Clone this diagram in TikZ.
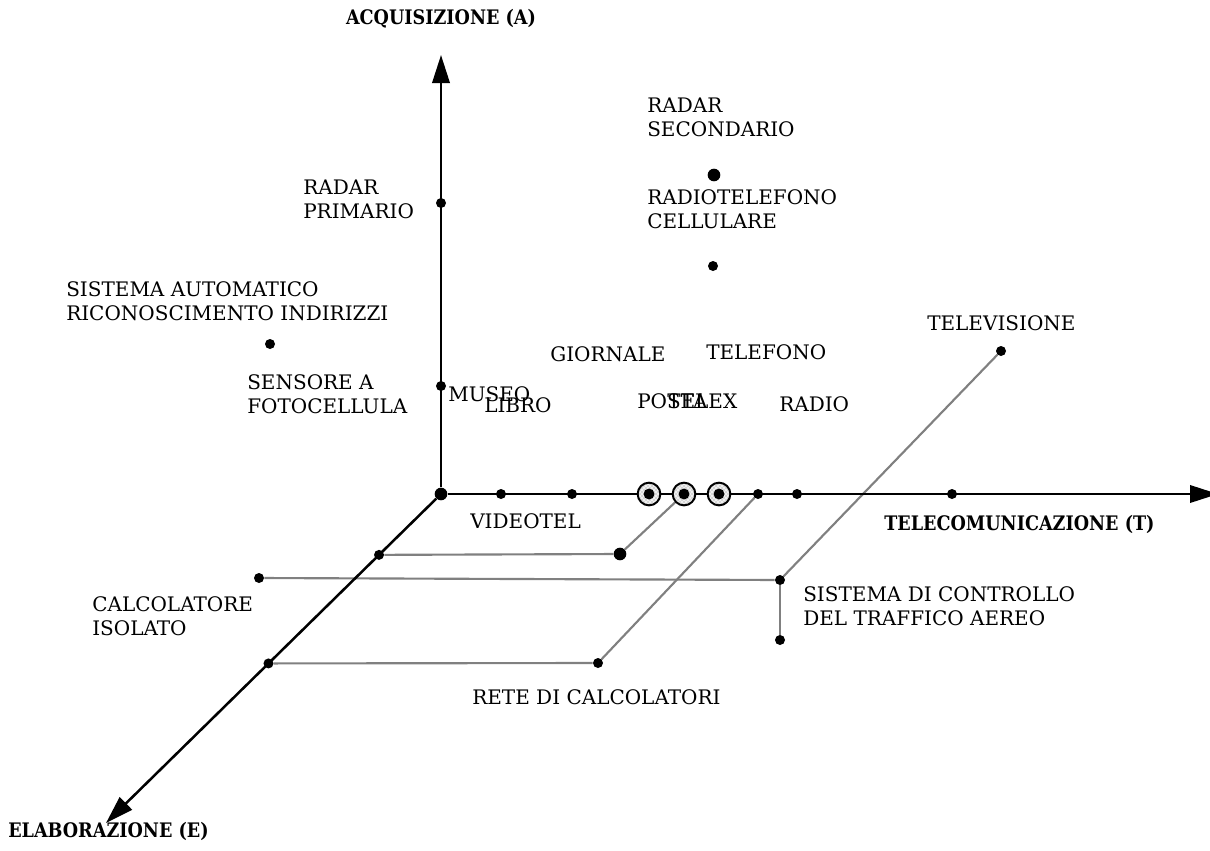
\documentclass[tikz,border=0pt]{standalone}
\usepackage{fontspec}
\setmainfont{DejaVu Serif}
\newfontfamily\axfont[FakeStretch=0.88]{DejaVu Serif Bold}
\usetikzlibrary{arrows.meta,patterns,calc}
\pgfdeclarelayer{background}
\pgfsetlayers{background,main}
\begin{document}
\begin{tikzpicture}[x=0.75pt,y=-0.75pt,
  lbl/.style={anchor=west,inner sep=0pt,align=left,font=\fontsize{15pt}{18.3pt}\selectfont},
  axlbl/.style={inner sep=0pt,font=\axfont\fontsize{15pt}{17pt}\selectfont},
  dotb/.style={circle,fill=black,inner sep=0pt,minimum size=7.5pt},
  bigdot/.style={circle,fill=black,inner sep=0pt,minimum size=9.5pt},
  ring/.style={circle,draw=black,line width=1.5pt,preaction={fill=gray!12},pattern=crosshatch dots,pattern color=gray,inner sep=0pt,minimum size=17pt},
  axisline/.style={line width=1.9pt,-{Triangle[length=21pt,width=13pt]}},
  link/.style={line width=1.6pt,draw=gray}
]
\useasboundingbox (0,0) rectangle (1210,850);

% axes end points
\node[bigdot] (O) at (441,494) {};
\coordinate (Atip) at (441,55);
\coordinate (Ttip) at (1218,494);
\coordinate (Etip) at (106,823);

% dots on T axis
\node[dotb] (t1) at (501,494) {};
\node[dotb] (t2) at (572,494) {};
\node[ring] (c1) at (649,494) {};
\node[ring] (c2) at (684,494) {};
\node[ring] (c3) at (719,494) {};
\node[dotb,minimum size=8.2pt] at (649,494) {};
\node[dotb,minimum size=8.2pt] at (684,494) {};
\node[dotb,minimum size=8.2pt] at (719,494) {};
\node[dotb] (t3) at (758,494) {};
\node[dotb] (t4) at (797,494) {};
\node[dotb] (t5) at (952,494) {};

% dots on A axis
\node[dotb] (a1) at (441,203) {};
\node[dotb] (a2) at (441,386) {};

% dots on E axis
\node[dotb] (e1) at ($(O)!0.185!(Etip)$) {};
\node[dotb] (e2) at ($(O)!0.515!(Etip)$) {};

% free dots
\node[dotb] (sari) at (270,344) {};
\node[bigdot] (rsec) at (714,175) {};
\node[dotb] (rtel) at (713,266) {};
\node[bigdot] (vdt) at (620,554) {};
\node[dotb] (calc) at (259,578) {};
\node[dotb] (sct) at (780,580) {};
\node[dotb] (sct2) at (780,640) {};
\node[dotb] (rete) at (598,663) {};
\node[dotb] (tv) at (1001,351) {};

\begin{pgfonlayer}{background}
  \draw[link] (e1) -- (vdt) -- (c2);
  \draw[link] (calc) -- (sct) -- (tv);
  \draw[link] (sct) -- (sct2);
  \draw[link] (e2) -- (rete) -- (t3);
  \draw[axisline] (O) -- (Atip);
  \draw[axisline] (O) -- (Ttip);
  \draw[axisline] (O) -- (Etip);
\end{pgfonlayer}

% labels
\node[lbl] (lradarP) at (303,199.5) {RADAR\\PRIMARIO};
\node[lbl] (lsari) at (66,301) {SISTEMA AUTOMATICO\\RICONOSCIMENTO INDIRIZZI};
\node[lbl] (lsens) at (247,394) {SENSORE A\\FOTOCELLULA};
\node[lbl] (lmuseo) at (448,394) {MUSEO};
\node[lbl] (llibro) at (484,405) {LIBRO};
\node[lbl] (lgiorn) at (550,354) {GIORNALE};
\node[lbl] (ltelef) at (706,352.5) {TELEFONO};
\node[lbl] (lposta) at (637,401) {POSTA};
\node[lbl] (ltelex) at (667,401) {TELEX};
\node[lbl] (lradio) at (779,404) {RADIO};
\node[lbl] (lradarS) at (647,117.5) {RADAR\\SECONDARIO};
\node[lbl] (lrtc) at (647,209.5) {RADIOTELEFONO\\CELLULARE};
\node[lbl] (ltv) at (927,323) {TELEVISIONE};
\node[lbl] (lvtel) at (470,521) {VIDEOTEL};
\node[lbl] (lcalc) at (92,616) {CALCOLATORE\\ISOLATO};
\node[lbl] (lsct) at (803,606) {SISTEMA DI CONTROLLO\\DEL TRAFFICO AEREO};
\node[lbl] (lrete) at (472,697) {RETE DI CALCOLATORI};

\node[axlbl] (labA) at (441,19) {ACQUISIZIONE (A)};
\node[axlbl,anchor=west] (labT) at (884,524) {TELECOMUNICAZIONE (T)};
\node[axlbl,anchor=west] (labE) at (8,831) {ELABORAZIONE (E)};
\end{tikzpicture}
\end{document}
